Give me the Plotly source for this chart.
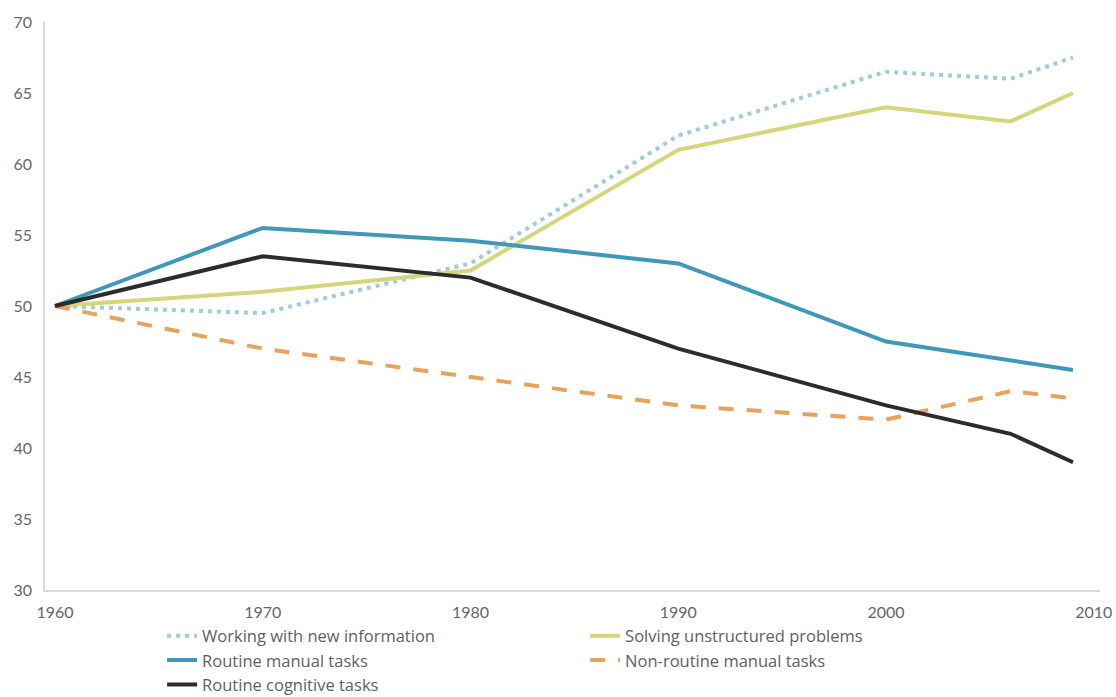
import plotly.graph_objects as go

years = [1960, 1970, 1980, 1990, 2000, 2006, 2009]

working_new_info = [50, 49.5, 53, 62, 66.5, 66, 67.5]
solving_unstructured = [50, 51, 52.5, 61, 64, 63, 65]
routine_manual = [50, 55.5, 54.6, 53, 47.5, 46.2, 45.5]
nonroutine_manual = [50, 47, 45, 43, 42, 44, 43.5]
routine_cognitive = [50, 53.5, 52, 47, 43, 41, 39]

x_ticks = [1960, 1970, 1980, 1990, 2000, 2010]
y_ticks = [30, 35, 40, 45, 50, 55, 60, 65, 70]

series = [
    ("Working with new information", working_new_info, "#9fcbdc", "4px,5px"),
    ("Solving unstructured problems", solving_unstructured, "#d5d67c", "solid"),
    ("Routine manual tasks", routine_manual, "#3f98b8", "solid"),
    ("Non-routine manual tasks", nonroutine_manual, "#e8a25c", "15px,13px"),
    ("Routine cognitive tasks", routine_cognitive, "#2c2c2c", "solid"),
]

fig = go.Figure()
for name, vals, color, dash in series:
    fig.add_trace(go.Scatter(
        x=years, y=vals, name=name, mode="lines",
        line=dict(color=color, width=4, dash=dash),
    ))

axis_font = dict(family="Lato, 'Noto Sans', sans-serif", size=16, color="#666666")

fig.update_layout(
    width=1116, height=697,
    margin=dict(l=45, r=16, t=22, b=107, autoexpand=False),
    plot_bgcolor="white", paper_bgcolor="white",
    showlegend=True,
    legend=dict(
        orientation="h", x=0.111, y=-0.05, xanchor="left", yanchor="top",
        entrywidth=378, entrywidthmode="pixels",
        font=dict(family="'Open Sans', sans-serif", size=16.5, color="#606060"),
        tracegroupgap=0, itemwidth=30,
    ),
    xaxis=dict(
        range=[1959.52, 2010.3], tickvals=x_ticks, ticktext=[str(t) for t in x_ticks],
        showgrid=False, zeroline=False, showline=True, linecolor="#d9d9d9", linewidth=1.5,
        ticks="", tickfont=axis_font, ticklabelstandoff=7,
    ),
    yaxis=dict(
        range=[30, 70], tickvals=y_ticks, showgrid=False, zeroline=False,
        showline=True, linecolor="#d9d9d9", linewidth=1.5, ticks="",
        tickfont=axis_font, ticklabelstandoff=8,
    ),
)

fig.write_html("out.html")
